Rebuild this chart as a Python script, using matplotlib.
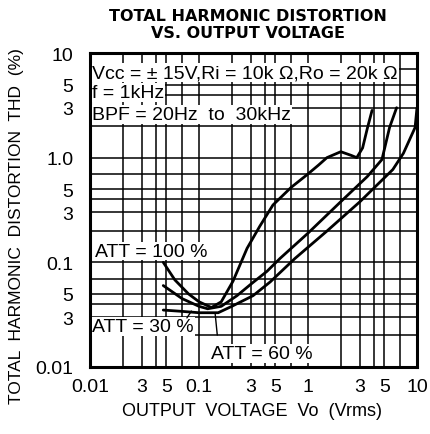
import matplotlib
matplotlib.use("Agg")
import matplotlib.pyplot as plt
import numpy as np

plt.rcParams['font.family'] = ['Liberation Sans', 'DejaVu Sans']

# ---------------- data ----------------
att100_v   = [0.047, 0.06, 0.08, 0.10, 0.13, 0.16, 0.205, 0.276, 0.36, 0.477, 0.70, 0.98, 1.25, 1.49, 2.0, 2.5, 2.8, 3.17, 3.5, 3.87]
att100_thd = [0.10, 0.068, 0.050, 0.042, 0.037, 0.042, 0.066, 0.136, 0.22, 0.353, 0.52, 0.687, 0.85, 1.0, 1.14, 1.05, 1.0, 1.24, 1.9, 2.83]

att60_v    = [0.047, 0.07, 0.10, 0.12, 0.16, 0.223, 0.30, 0.42, 0.554, 1.0, 2.0, 3.5, 4.77, 5.6, 6.5]
att60_thd  = [0.060, 0.045, 0.038, 0.036, 0.038, 0.048, 0.062, 0.082, 0.109, 0.19, 0.38, 0.66, 0.96, 1.94, 3.0]

att30_v    = [0.047, 0.07, 0.10, 0.15, 0.20, 0.313, 0.45, 0.76, 1.5, 3.0, 6.0, 7.5, 9.6, 10.0]
att30_thd  = [0.035, 0.034, 0.033, 0.033, 0.038, 0.048, 0.065, 0.109, 0.20, 0.38, 0.77, 1.1, 1.94, 3.0]

x_ticks  = [0.01, 0.03, 0.05, 0.1, 0.3, 0.5, 1, 3, 5, 10]
x_labels = ["0.01", "3", "5", "0.1", "3", "5", "1", "3", "5", "10"]
y_ticks  = [0.01, 0.03, 0.05, 0.1, 0.3, 0.5, 1, 3, 5, 10]
y_labels = ["0.01", "3", "5", "0.1", "3", "5", "1.0", "3", "5", "10"]
grid_mult = [1, 2, 3, 4, 5, 7]
decades = [0.01, 0.1, 1]

title = "TOTAL HARMONIC DISTORTION\nVS. OUTPUT VOLTAGE"
xlabel = "OUTPUT  VOLTAGE  Vo  (Vrms)"
ylabel = "TOTAL  HARMONIC  DISTORTION  THD  (%)"
cond_lines = ["Vcc = \u00b1 15V,Ri = 10k \u03a9,Ro = 20k \u03a9",
              "f = 1kHz",
              "BPF = 20Hz  to  30kHz"]

# ---------------- figure ----------------
fig = plt.figure(figsize=(4.31, 4.35), dpi=100)
ax = fig.add_axes([90/431, (435-368)/435, (417-90)/431, (368-54)/435])
ax.set_xscale('log')
ax.set_yscale('log')
ax.set_xlim(0.01, 10)
ax.set_ylim(0.01, 10)

grid_vals = [d * m for d in decades for m in grid_mult]
for g in grid_vals:
    ax.axvline(g, color='black', lw=1.1, zorder=1)
    ax.axhline(g, color='black', lw=1.1, zorder=1)

for v, t in [(att100_v, att100_thd), (att60_v, att60_thd), (att30_v, att30_thd)]:
    ax.plot(v, t, color='black', lw=2.0, solid_capstyle='round', zorder=3)

ax.set_xticks(x_ticks)
ax.set_xticklabels(x_labels)
ax.set_yticks(y_ticks)
ax.set_yticklabels(y_labels)
ax.minorticks_off()
ax.tick_params(length=0, labelsize=14, pad=8)
ax.tick_params(axis='y', pad=12)
for s in ax.spines.values():
    s.set_linewidth(2.2)

fs = 14
bb = dict(facecolor='white', edgecolor='none', pad=0.5)
ax.text(0.0105, 6.5, cond_lines[0], fontsize=fs, va='center', ha='left', bbox=bb, zorder=4)
ax.text(0.0105, 4.2, cond_lines[1], fontsize=fs, va='center', ha='left', bbox=bb, zorder=4)
ax.text(0.0105, 2.6, cond_lines[2], fontsize=fs, va='center', ha='left', bbox=bb, zorder=4)

ax.text(0.0112, 0.128, "ATT = 100 %", fontsize=fs, va='center', ha='left', bbox=bb, zorder=4)
ax.text(0.0105, 0.0245, "ATT = 30 %", fontsize=fs, va='center', ha='left', bbox=bb, zorder=4)
ax.text(0.128, 0.0135, "ATT = 60 %", fontsize=fs, va='center', ha='left', bbox=bb, zorder=4)

ax.annotate("", xy=(0.088, 0.036), xytext=(0.075, 0.028),
            arrowprops=dict(arrowstyle='-', color='black', lw=1.0), zorder=4)
ax.annotate("", xy=(0.14, 0.034), xytext=(0.148, 0.019),
            arrowprops=dict(arrowstyle='-', color='black', lw=1.0), zorder=4)

fig.text(248/431, 1 - 25/435, title, fontsize=11.5, fontweight='bold',
         family='DejaVu Sans', ha='center', va='center', linespacing=1.15)
fig.text(252/431, 1 - 412/435, xlabel, fontsize=13, ha='center', va='center')
fig.text(17/431, 1 - 226/435, ylabel, fontsize=12.5, ha='center', va='center', rotation=90)

fig.savefig("out.png", dpi=100)
